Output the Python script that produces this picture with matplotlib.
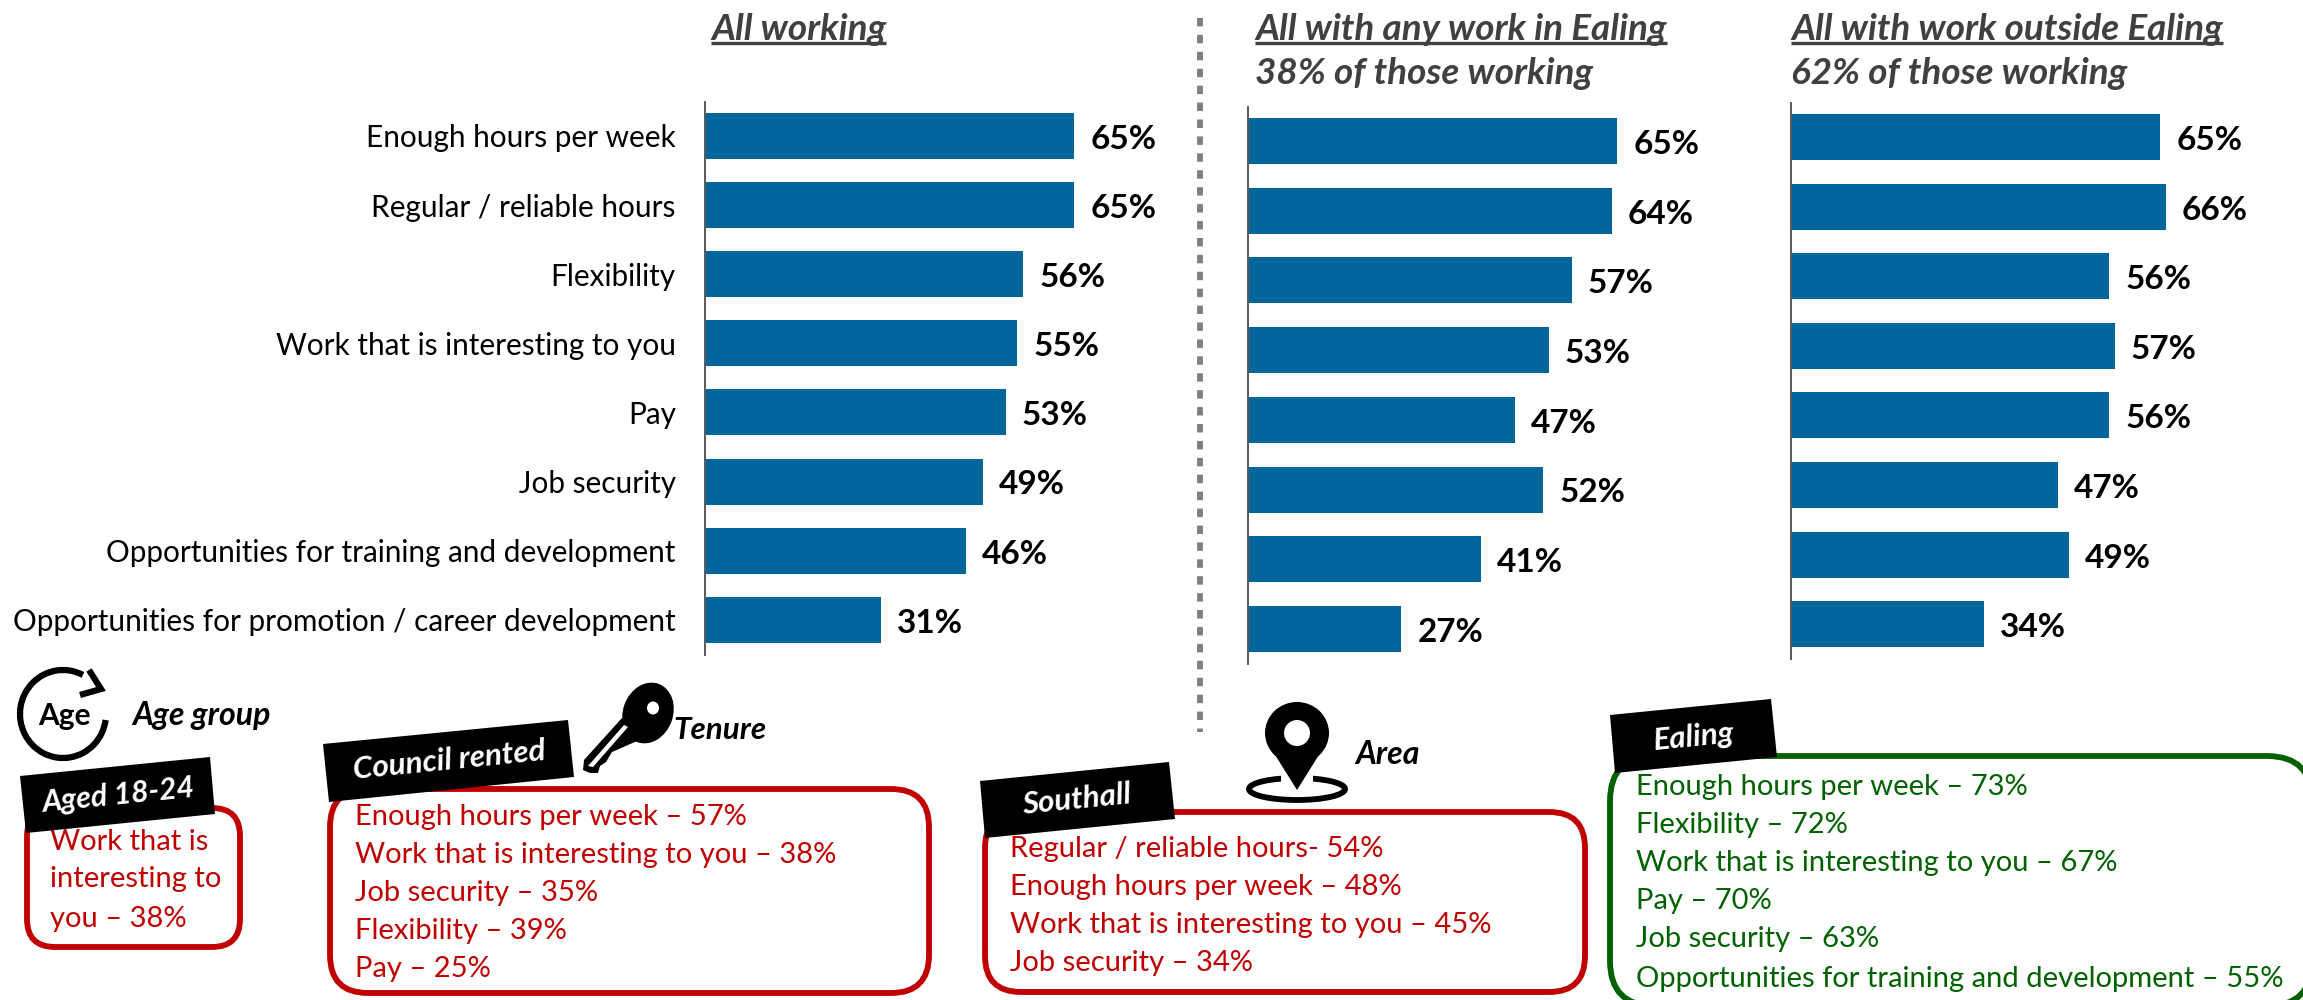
import matplotlib
matplotlib.use("Agg")
import matplotlib.pyplot as plt
from matplotlib.patches import FancyBboxPatch, Polygon, Ellipse, Arc, Circle, Rectangle
import numpy as np

plt.rcParams['font.family'] = ['Lato', 'DejaVu Sans']

categories = ["Enough hours per week", "Regular / reliable hours", "Flexibility",
              "Work that is interesting to you", "Pay", "Job security",
              "Opportunities for training and development",
              "Opportunities for promotion / career development"]
all_working = [65, 65, 56, 55, 53, 49, 46, 31]
work_in_ealing = [65, 64, 57, 53, 47, 52, 41, 27]
work_outside_ealing = [65, 66, 56, 57, 56, 47, 49, 34]

age_lines = ["Work that is", "interesting to", "you – 38%"]
tenure_lines = ["Enough hours per week – 57%", "Work that is interesting to you – 38%",
                "Job security – 35%", "Flexibility – 39%", "Pay – 25%"]
south_lines = ["Regular / reliable hours- 54%", "Enough hours per week – 48%",
               "Work that is interesting to you – 45%", "Job security – 34%"]
ealing_lines = ["Enough hours per week – 73%", "Flexibility – 72%",
                "Work that is interesting to you – 67%", "Pay – 70%",
                "Job security – 63%", "Opportunities for training and development – 55%"]

W, H = 2303, 1000
fig = plt.figure(figsize=(W / 100, H / 100), dpi=100, facecolor='white')

BAR = '#02659b'
RED = '#C00000'
GREEN = '#006100'
GREY = '#404040'
FS = 21.4
FS_BOX = 21.0
PX_PER_PCT = 5.68


def panel(x0, top, bottom, c0, pitch, values, labels=None):
    width = 420
    ax = fig.add_axes([x0 / W, 1 - bottom / H, width / W, (bottom - top) / H])
    pos = np.arange(len(values))
    ax.barh(pos, values, height=46 / pitch, color=BAR, edgecolor='none')
    ax.set_xlim(0, width / PX_PER_PCT)
    ax.set_ylim(7 + (bottom - (c0 + 7 * pitch)) / pitch, -(c0 - top) / pitch)
    for s in ('top', 'right', 'bottom'):
        ax.spines[s].set_visible(False)
    ax.spines['left'].set_color('#595959')
    ax.spines['left'].set_linewidth(1.4)
    ax.set_xticks([])
    ax.patch.set_alpha(0)
    if labels:
        ax.set_yticks(pos, labels, fontsize=FS, color='black')
        ax.tick_params(axis='y', length=0, pad=21)
        for lab in ax.get_yticklabels():
            lab.set_y(lab.get_position()[1])
    else:
        ax.set_yticks([])
    for p, v in zip(pos, values):
        ax.annotate(f"{v}%", (v, p), xytext=(11.5, -2.5), textcoords='offset points',
                    va='center', ha='left', fontsize=24, fontweight='bold', color='black')
    return ax


panel(705, 102, 655, 136, 69.1, all_working, categories)
panel(1248, 107, 664, 141, 69.7, work_in_ealing)
panel(1791, 103, 659, 137, 69.6, work_outside_ealing)

ov = fig.add_axes([0, 0, 1, 1], zorder=5)
ov.set_xlim(0, W)
ov.set_ylim(H, 0)
ov.axis('off')
ov.patch.set_alpha(0)


def title(x, y, s, underline=True):
    t = ov.text(x, y, s, fontsize=26.6, fontstyle='italic', fontweight='bold',
                color=GREY, va='center', ha='left')
    if underline:
        fig.canvas.draw()
        bb = t.get_window_extent()
        ov.plot([bb.x0, bb.x1], [43, 43], color=GREY, lw=2.4, solid_capstyle='butt')


title(711, 29, "All working")
title(1255, 29, "All with any work in Ealing")
title(1255, 73, "38% of those working", False)
title(1791, 29, "All with work outside Ealing")
title(1791, 73, "62% of those working", False)

ov.plot([1200, 1200], [18, 732], color='#7f7f7f', lw=4.2, dashes=(1.45, 1.45))


def box(x0, y0, x1, y1, r, color):
    ov.add_patch(FancyBboxPatch((x0, y0), x1 - x0, y1 - y0,
                                boxstyle=f"round,pad=0,rounding_size={r}",
                                fc='white', ec=color, lw=4.2, zorder=2, clip_on=True))


def lines(x, ys, items, color):
    for y, s in zip(ys, items):
        ov.text(x, y + 1.5, s, fontsize=FS_BOX, color=color, va='center', ha='left', zorder=3)


def tag(corners, cx, cy, s, size=22.6):
    ov.add_patch(Polygon(corners, closed=True, fc='black', ec='none', zorder=4))
    ov.text(cx, cy, s, fontsize=size, color='white', fontweight='bold', fontstyle='italic',
            rotation=5.7, rotation_mode='anchor', ha='center', va='center', zorder=5)


box(27, 808, 240, 947, 28, RED)
lines(50, [840, 878, 917], age_lines, RED)
tag([(20, 776), (210, 757), (215, 814), (26, 833)], 118, 795, "Aged 18-24", 21.8)

box(330, 789, 929, 993, 38, RED)
lines(355, [816, 853, 892, 930, 968], tenure_lines, RED)
tag([(323, 744), (568, 720), (574, 777), (329, 802)], 449, 760, "Council rented")

box(985, 812, 1585, 992, 36, RED)
lines(1010, [847, 885, 923, 962], south_lines, RED)
tag([(980, 781), (1169, 762), (1175, 819), (985, 838)], 1077, 800, "Southall")

box(1610, 756, 2312, 1006, 45, GREEN)
lines(1636, [785, 823, 862, 900, 938, 977], ealing_lines, GREEN)
tag([(1610, 715), (1771, 699), (1777, 757), (1615, 773)], 1694, 737, "Ealing")


def small_title(x, y, s, size=23):
    ov.text(x, y, s, fontsize=size, fontweight='bold', fontstyle='italic', color='black',
            va='center', ha='left', zorder=3)


small_title(132, 715, "Age group")
small_title(673, 730, "Tenure", 22.6)
small_title(1355, 755, "Area")

# Age icon
ov.add_patch(Arc((63, 714), 86, 88, theta1=8, theta2=297, color='black', lw=4.5, zorder=3))
ov.plot([80, 101, 89], [695, 689, 670], color='black', lw=4.5, zorder=3,
        solid_joinstyle='miter', solid_capstyle='butt')
ov.text(64, 716, "Age", fontsize=21.5, fontweight='bold', color='black', ha='center', va='center', zorder=3)

# Key icon
ov.add_patch(Ellipse((648, 713), 50, 62, angle=20, fc='black', ec='none', zorder=3))
ov.add_patch(Polygon([(622, 718), (644, 738), (612, 752), (606, 762), (600, 766), (598, 773),
                      (590, 773), (583, 770), (584, 760)], closed=True, fc='black', ec='none', zorder=3))
ov.add_patch(Polygon([(624, 725), (628, 727), (593, 767), (588, 766)], closed=True, fc='white', ec='none', zorder=3.2))
ov.add_patch(Ellipse((653, 708), 12, 13, fc='white', ec='none', zorder=3.2))

# Pin icon
ov.add_patch(Ellipse((1297, 789), 96, 22, fc='none', ec='black', lw=4.2, zorder=3))
ov.add_patch(Rectangle((1281, 770), 32, 14, fc='white', ec='none', zorder=3.1))
ov.add_patch(Polygon([(1267, 742), (1297, 790), (1327, 742)], closed=True, fc='black', ec='none', zorder=3.2))
ov.add_patch(Ellipse((1297, 733), 64, 62, fc='black', ec='none', zorder=3.2))
ov.add_patch(Circle((1297, 733), 13, fc='white', ec='none', zorder=3.3))

fig.savefig("out.png", dpi=100)
